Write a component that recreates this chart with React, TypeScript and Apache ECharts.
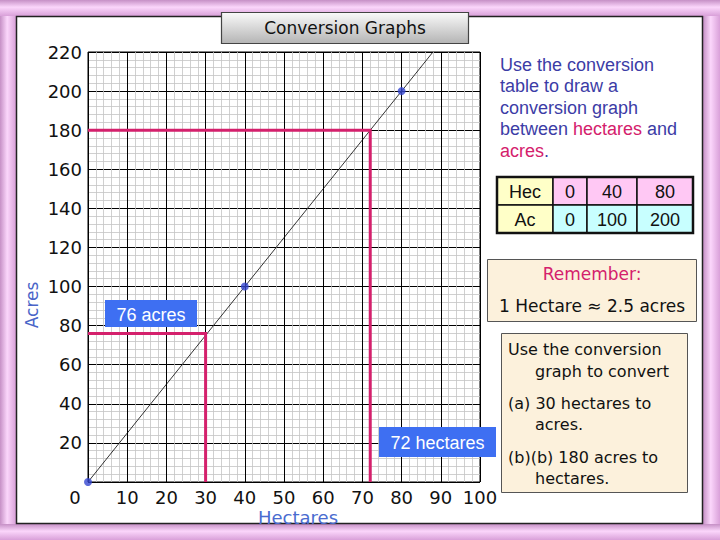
import * as echarts from "echarts";
import { useEffect, useRef } from "react";

// conversion table
const hectares = [0, 40, 80];
const acres = [0, 100, 200];
// the ruled line leaves the top of the grid here
const lineEnd = [88, 220];

// reading paths drawn on the graph
const pathToAcres = [
  [30, 0],
  [30, 76],
  [0, 76],
];
const pathToHectares = [
  [0, 180],
  [72, 180],
  [72, 0],
];

const introLines = [
  "Use the conversion",
  "table to draw a",
  "conversion graph",
];
const questionLines: [string, boolean][] = [
  ["Use the conversion", false],
  ["graph to convert", true],
  ["(a) 30 hectares to", false],
  ["acres.", true],
  ["(b)(b) 180 acres to", false],
  ["hectares.", true],
];

const comic = '"Comic Sans MS", "DejaVu Sans", sans-serif';
const arial = '"Liberation Sans", Arial, sans-serif';
const pink = "#d4206c";
const blueText = "#3c3ca6";

function barGradient(horizontal: boolean) {
  return new echarts.graphic.LinearGradient(0, 0, horizontal ? 1 : 0, horizontal ? 0 : 1, [
    { offset: 0, color: "#c690c6" },
    { offset: 0.45, color: "#fbd6fb" },
    { offset: 1, color: "#d9a0d9" },
  ]);
}

function buildGraphic() {
  const els: any[] = [];
  // page frame
  els.push({ type: "rect", z: -20, shape: { x: 0, y: 0, width: 720, height: 540 }, style: { fill: "#ecbcec" } });
  els.push({ type: "rect", z: -19, shape: { x: 0, y: 0, width: 16, height: 540 }, style: { fill: barGradient(true) } });
  els.push({ type: "rect", z: -19, shape: { x: 703, y: 0, width: 17, height: 540 }, style: { fill: barGradient(true) } });
  els.push({ type: "rect", z: -19, shape: { x: 0, y: 0, width: 720, height: 16 }, style: { fill: barGradient(false) } });
  els.push({ type: "rect", z: -19, shape: { x: 0, y: 524, width: 720, height: 16 }, style: { fill: barGradient(false) } });
  els.push({
    type: "rect",
    z: -18,
    shape: { x: 16.5, y: 16.5, width: 686, height: 507 },
    style: { fill: "#ffffff", stroke: "#222", lineWidth: 1.5 },
  });

  // title box
  els.push({
    type: "rect",
    z: 10,
    shape: { x: 221.5, y: 12.5, width: 247, height: 31 },
    style: {
      fill: new echarts.graphic.LinearGradient(0, 0, 0, 1, [
        { offset: 0, color: "#fafafa" },
        { offset: 1, color: "#b4b4b4" },
      ]),
      stroke: "#444",
      lineWidth: 1.2,
    },
  });
  els.push({
    type: "text",
    z: 11,
    x: 345,
    y: 28,
    style: { text: "Conversion Graphs", fontFamily: comic, fontSize: 17, fill: "#111", align: "center", verticalAlign: "middle" },
  });

  // axis title on the left
  els.push({
    type: "text",
    z: 11,
    x: 32,
    y: 305,
    rotation: Math.PI / 2,
    style: { text: "Acres", fontFamily: comic, fontSize: 17, fill: "#4a64c8", align: "center", verticalAlign: "middle" },
  });

  // instructions
  els.push({
    type: "text",
    z: 11,
    x: 500,
    y: 54,
    style: {
      text:
        introLines.map((l) => `{b|${l}}`).join("\n") +
        "\n{b|between }{r|hectares}{b| and}\n{r|acres}{b|.}",
      fontFamily: arial,
      fontSize: 18,
      lineHeight: 21.5,
      rich: {
        b: { fill: blueText, fontFamily: arial, fontSize: 18, lineHeight: 21.5 },
        r: { fill: pink, fontFamily: arial, fontSize: 18, lineHeight: 21.5 },
      },
    },
  });

  // conversion table
  const colX = [497, 553, 587, 637, 693];
  const rowY = [177, 205, 233];
  const rows = [
    { head: "Hec", values: hectares, fill: "#ffc8f4" },
    { head: "Ac", values: acres, fill: "#c8ffff" },
  ];
  rows.forEach((row, r) => {
    const cells = [row.head, ...row.values.map(String)];
    cells.forEach((txt, c) => {
      els.push({
        type: "rect",
        z: 10,
        shape: { x: colX[c], y: rowY[r], width: colX[c + 1] - colX[c], height: rowY[r + 1] - rowY[r] },
        style: { fill: c === 0 ? "#ffffc8" : row.fill, stroke: "#111", lineWidth: 1.5 },
      });
      els.push({
        type: "text",
        z: 11,
        x: (colX[c] + colX[c + 1]) / 2,
        y: (rowY[r] + rowY[r + 1]) / 2 + 1,
        style: { text: txt, fontFamily: arial, fontSize: 18, fill: "#111", align: "center", verticalAlign: "middle" },
      });
    });
  });
  els.push({
    type: "rect",
    z: 12,
    shape: { x: 497, y: 177, width: 196, height: 56 },
    style: { fill: "none", stroke: "#111", lineWidth: 2.5 },
  });

  // remember box
  els.push({
    type: "rect",
    z: 10,
    shape: { x: 487.5, y: 259.5, width: 209, height: 62 },
    style: { fill: "#fcf1dc", stroke: "#555", lineWidth: 1 },
  });
  els.push({
    type: "text",
    z: 11,
    x: 592,
    y: 274,
    style: { text: "Remember:", fontFamily: comic, fontSize: 17, fill: pink, align: "center", verticalAlign: "middle" },
  });
  els.push({
    type: "text",
    z: 11,
    x: 592,
    y: 306,
    style: { text: "1 Hectare \u2248 2.5 acres", fontFamily: comic, fontSize: 17, fill: "#111", align: "center", verticalAlign: "middle" },
  });

  // questions box
  els.push({
    type: "rect",
    z: 10,
    shape: { x: 501.5, y: 333.5, width: 186, height: 159 },
    style: { fill: "#fcf1dc", stroke: "#555", lineWidth: 1 },
  });
  const qY = [349, 371, 403, 424, 457, 478];
  questionLines.forEach(([txt, indent], i) => {
    els.push({
      type: "text",
      z: 11,
      x: indent ? 535 : 508,
      y: qY[i],
      style: { text: txt, fontFamily: comic, fontSize: 16, fill: "#111", verticalAlign: "middle" },
    });
  });

  // answer labels
  const tags = [
    { text: "76 acres", x: 105, y: 300, w: 92, h: 27 },
    { text: "72 hectares", x: 379, y: 427, w: 117, h: 30 },
  ];
  tags.forEach((t) => {
    els.push({ type: "rect", z: 20, shape: { x: t.x, y: t.y, width: t.w, height: t.h }, style: { fill: "#3e6ff2" } });
    els.push({
      type: "text",
      z: 21,
      x: t.x + t.w / 2,
      y: t.y + t.h / 2 + 1,
      style: { text: t.text, fontFamily: arial, fontSize: 18, fill: "#ffffff", align: "center", verticalAlign: "middle" },
    });
  });
  return els;
}

export default function App() {
  const chartRef = useRef<HTMLDivElement | null>(null);

  useEffect(() => {
    if (!chartRef.current) return;
    const chart = echarts.init(chartRef.current, undefined, { renderer: "svg" });

    const points = hectares.map((h, i) => [h, acres[i]]);

    const option: echarts.EChartsOption = {
      animation: false,
      grid: { left: 88, top: 52, width: 392, height: 430, show: true, backgroundColor: "#fff", borderColor: "#000", borderWidth: 1 },
      graphic: buildGraphic(),
      xAxis: {
        type: "value",
        min: 0,
        max: 100,
        interval: 10,
        name: "Hectares",
        nameLocation: "middle",
        nameGap: 26,
        nameMoveOverlap: false,
        nameTextStyle: { fontFamily: comic, fontSize: 18, lineHeight: 18, color: "#4a6cd0", padding: [0, 0, 0, 28] },
        axisLine: { show: false },
        axisTick: { show: false },
        axisLabel: {
          fontFamily: comic,
          fontSize: 18,
          lineHeight: 18,
          color: "#111",
          margin: 6,
          formatter: (v: number) => (v === 0 ? "{z|0}" : String(v)),
          rich: { z: { fontFamily: comic, fontSize: 18, lineHeight: 18, color: "#111", padding: [0, 26, 0, 0] } },
        },
        splitLine: { show: true, lineStyle: { color: "#000", width: 1 } },
        minorTick: { show: false, splitNumber: 5 },
        minorSplitLine: { show: true, lineStyle: { color: "#c4c4c4", width: 0.8 } },
      } as any,
      yAxis: {
        type: "value",
        min: 0,
        max: 220,
        interval: 20,
        axisLine: { show: false },
        axisTick: { show: false },
        axisLabel: { fontFamily: comic, fontSize: 18, color: "#111", margin: 6, showMinLabel: false },
        splitLine: { show: true, lineStyle: { color: "#000", width: 1 } },
        minorTick: { show: false, splitNumber: 5 },
        minorSplitLine: { show: true, lineStyle: { color: "#c4c4c4", width: 0.8 } },
      },
      series: [
        {
          type: "line",
          data: [...points, lineEnd],
          showSymbol: false,
          lineStyle: { color: "#000", width: 0.8 },
          z: 3,
        },
        {
          type: "scatter",
          data: points,
          symbolSize: 8,
          itemStyle: { color: "#3546cf" },
          z: 5,
        },
        {
          type: "lines",
          coordinateSystem: "cartesian2d",
          polyline: true,
          symbol: ["none", "arrow"],
          symbolSize: 8,
          lineStyle: { color: pink, width: 3, opacity: 1 },
          data: [{ coords: pathToHectares }, { coords: pathToAcres }],
          z: 4,
        },
      ],
    };

    chart.setOption(option);
    return () => chart.dispose();
  }, []);

  return <div ref={chartRef} style={{ position: "absolute", left: 0, top: 0, width: 720, height: 540 }} />;
}
